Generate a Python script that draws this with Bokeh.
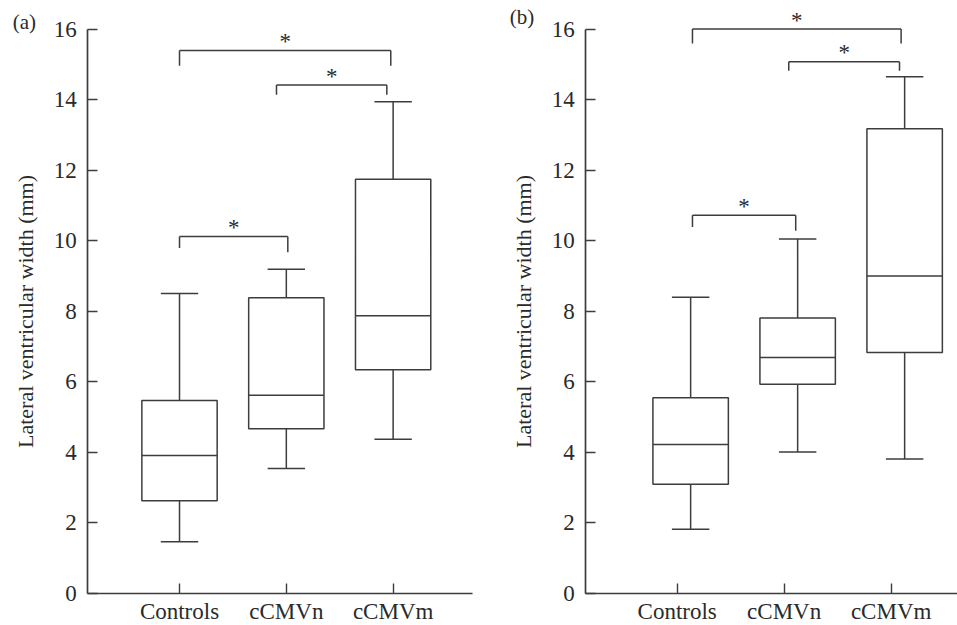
from bokeh.plotting import figure
from bokeh.models import FixedTicker, Label
from bokeh.layouts import row
from bokeh.embed import file_html
from bokeh.resources import INLINE
from bokeh.core.properties import value

groups = ["Controls", "cCMVn", "cCMVm"]
y_ticks = [0, 2, 4, 6, 8, 10, 12, 14, 16]

# Panel (a)
a_low = [1.47, 3.54, 4.37]
a_q1 = [2.63, 4.67, 6.34]
a_med = [3.91, 5.62, 7.87]
a_q3 = [5.47, 8.38, 11.74]
a_high = [8.50, 9.19, 13.94]
a_pairs = [(0, 2), (1, 2), (0, 1)]
a_bar_y = [15.39, 14.41, 10.12]
a_left_leg = [14.96, 14.14, 9.79]
a_right_leg = [14.96, 14.14, 9.67]

# Panel (b)
b_low = [1.82, 4.01, 3.81]
b_q1 = [3.10, 5.93, 6.83]
b_med = [4.22, 6.69, 9.00]
b_q3 = [5.55, 7.81, 13.17]
b_high = [8.40, 10.05, 14.65]
b_pairs = [(0, 2), (1, 2), (0, 1)]
b_bar_y = [16.00, 15.07, 10.72]
b_left_leg = [15.59, 14.82, 10.39]
b_right_leg = [15.59, 14.82, 10.28]

y_label = "Lateral ventricular width (mm)"
FONT = "Liberation Serif"
LINE = "#3d3d3d"
TEXT = "#2a2a2a"
H = 625
Y_RANGE = (-0.907, 16.808)


def make_panel(tag, low, q1, med, q3, high, pairs, bar_y, lleg, rleg,
               width, x_range, axis_x, axis_x_end, shift,
               inset_l, inset_r, tag_offset, tag_y):
    p = figure(width=width, height=H, output_backend="svg", toolbar_location=None,
               x_range=x_range, y_range=Y_RANGE,
               min_border_left=0, min_border_right=0,
               min_border_top=0, min_border_bottom=0)
    p.outline_line_color = None
    p.grid.visible = False
    p.background_fill_color = "white"
    p.border_fill_color = "white"

    for ax in (p.xaxis[0], p.yaxis[0]):
        ax.axis_line_color = LINE
        ax.axis_line_width = 1.7
        ax.major_tick_line_color = LINE
        ax.major_tick_line_width = 1.4
        ax.major_tick_in = 10
        ax.major_tick_out = 0
        ax.minor_tick_line_color = None
        ax.major_label_text_font = FONT
        ax.major_label_text_font_size = "23px"
        ax.major_label_text_color = TEXT

    p.yaxis.fixed_location = axis_x
    p.yaxis.ticker = FixedTicker(ticks=y_ticks)
    p.yaxis.bounds = (0, 16)
    p.yaxis.major_label_standoff = 11
    p.yaxis.axis_label = y_label
    p.yaxis.axis_label_text_font = FONT
    p.yaxis.axis_label_text_font_size = "22px"
    p.yaxis.axis_label_text_font_style = "normal"
    p.yaxis.axis_label_text_color = TEXT
    p.yaxis.axis_label_standoff = 13

    p.xaxis.fixed_location = 0
    p.xaxis.bounds = (axis_x, axis_x_end)
    p.xaxis.ticker = FixedTicker(ticks=[1, 2, 3])
    p.xaxis.major_label_overrides = {i + 1: g for i, g in enumerate(groups)}
    p.xaxis.major_label_standoff = 5

    xs = [i + 1 + shift for i in range(len(groups))]
    bw = 0.705
    cw = 0.35
    lw = 1.5
    # whiskers
    p.segment(x0=xs, y0=q3, x1=xs, y1=high, line_color=LINE, line_width=lw)
    p.segment(x0=xs, y0=low, x1=xs, y1=q1, line_color=LINE, line_width=lw)
    p.segment(x0=[x - cw / 2 for x in xs], y0=high, x1=[x + cw / 2 for x in xs], y1=high,
              line_color=LINE, line_width=lw)
    p.segment(x0=[x - cw / 2 for x in xs], y0=low, x1=[x + cw / 2 for x in xs], y1=low,
              line_color=LINE, line_width=lw)
    # boxes
    p.quad(left=[x - bw / 2 for x in xs], right=[x + bw / 2 for x in xs], bottom=q1, top=q3,
           fill_color="white", line_color=LINE, line_width=lw)
    p.segment(x0=[x - bw / 2 for x in xs], y0=med, x1=[x + bw / 2 for x in xs], y1=med,
              line_color=LINE, line_width=lw)

    # significance brackets
    bx0 = [xs[i] + inset_l[k] for k, (i, j) in enumerate(pairs)]
    bx1 = [xs[j] + inset_r[k] for k, (i, j) in enumerate(pairs)]
    p.segment(x0=bx0, y0=bar_y, x1=bx1, y1=bar_y, line_color=LINE, line_width=lw)
    p.segment(x0=bx0, y0=bar_y, x1=bx0, y1=lleg, line_color=LINE, line_width=lw)
    p.segment(x0=bx1, y0=bar_y, x1=bx1, y1=rleg, line_color=LINE, line_width=lw)
    p.text(x=[(a + b) / 2 for a, b in zip(bx0, bx1)], y=bar_y, text=["*"] * len(pairs),
           text_font=value(FONT), text_font_size="23px", text_color=TEXT,
           text_align="center", text_baseline="middle", y_offset=-9)

    p.add_layout(Label(x=axis_x, y=tag_y, x_offset=tag_offset, text=tag,
                       text_font=FONT, text_font_size="21px", text_color=TEXT,
                       text_baseline="middle"))
    return p


pa = make_panel("(a)", a_low, a_q1, a_med, a_q3, a_high, a_pairs, a_bar_y, a_left_leg, a_right_leg,
                width=480, x_range=(-0.676, 3.818), axis_x=0.1414, axis_x_end=3.743, shift=0.0,
                inset_l=[0.0, -0.092, 0.0], inset_r=[-0.022, -0.059, 0.014],
                tag_offset=-75, tag_y=16.193)
pb = make_panel("(b)", b_low, b_q1, b_med, b_q3, b_high, b_pairs, b_bar_y, b_left_leg, b_right_leg,
                width=477, x_range=(-0.838, 3.620), axis_x=0.146, axis_x_end=3.620, shift=0.126,
                inset_l=[0.017, -0.083, 0.017], inset_r=[-0.033, -0.048, -0.018],
                tag_offset=-76, tag_y=16.334)

layout = row(pa, pb)
open("out.html", "w").write(file_html(layout, INLINE))
